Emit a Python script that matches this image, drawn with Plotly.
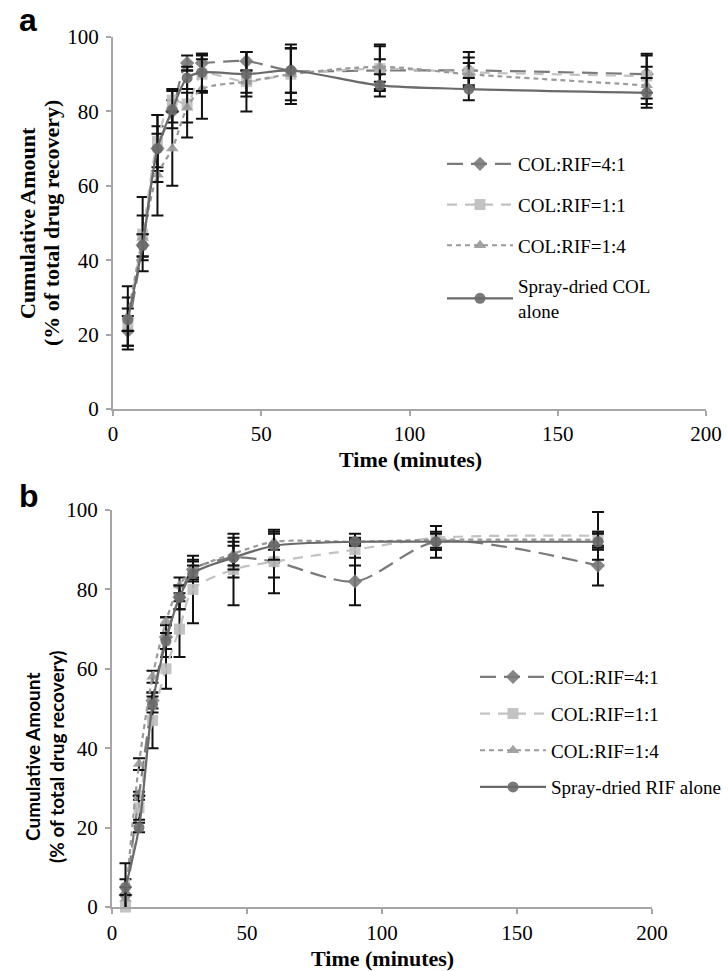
import plotly.graph_objects as go

W, H = 728, 971

# ---------------- data ----------------
time_min = [5, 10, 15, 20, 25, 30, 45, 60, 90, 120, 180]

names_a = ["COL:RIF=4:1", "COL:RIF=1:1", "COL:RIF=1:4", "Spray-dried COL<br>alone"]
a_41 = [21, 44, 70, 80, 93, 93, 93.5, 91, 91, 91, 90]
a_11 = [23, 47, 72, 83, 82, 90, 88, 90, 91.5, 90.5, 89.5]
a_14 = [25, 46, 63, 70, 81, 86, 88, 90, 92, 90, 87]
a_sd = [24, 44, 70, 80.5, 89, 90.5, 90, 91, 87, 86, 85]
a_err_41 = [4, 3, 6, 3, 2, 2.5, 2.5, 6, 3, 5, 5]
a_err_11 = [7, 10, 7, 3, 9, 5, 3, 8, 6, 4, 6]
a_err_14 = [8, 6, 11, 10, 4, 8, 8, 7, 6, 3, 5]
a_err_sd = [3, 3, 9, 5, 3, 5, 6, 6, 3, 3, 4]

names_b = ["COL:RIF=4:1", "COL:RIF=1:1", "COL:RIF=1:4", "Spray-dried RIF alone"]
b_41 = [3, 28, 52, 68, 78, 85, 88, 87, 82, 92, 86]
b_11 = [0, 25, 47, 60, 70, 80, 85, 87, 90, 93, 93.5]
b_14 = [2, 36, 58, 72, 81, 85, 89, 92, 92, 92.5, 92.5]
b_sd = [5, 20, 51, 67, 78, 84, 88, 91, 92, 92, 92]
b_err_41 = [4, 1, 2, 5, 3, 2.5, 5, 4, 6, 4, 5]
b_err_11 = [3, 3, 7, 5, 7, 8.5, 9, 8, 4, 3, 6]
b_err_14 = [3, 1.5, 1.5, 1, 2, 2, 3, 2, 1, 2, 2]
b_err_sd = [6, 1.2, 2, 2, 3, 2, 3, 3.5, 0.5, 2, 2]

y_ticks = [0, 20, 40, 60, 80, 100]
x_ticks = [0, 50, 100, 150, 200]

# ---------------- styles ----------------
styles = [
    dict(color="#7a7a7a", dash="16px,8px", symbol="diamond", mcolor="#7a7a7a"),
    dict(color="#c2c2c2", dash="10px,8px", symbol="square", mcolor="#bdbdbd"),
    dict(color="#9a9a9a", dash="5px,4px", symbol="triangle-up", mcolor="#999999"),
    dict(color="#6a6a6a", dash="solid", symbol="circle", mcolor="#6a6a6a"),
]

SERIF = "Liberation Serif, Times New Roman, serif"

fig = go.Figure()

def add_panel(ys, errs, names, xa, ya, legend, group_prefix):
    for i, (yv, ev, nm) in enumerate(zip(ys, errs, names)):
        st = styles[i]
        fig.add_trace(go.Scatter(
            x=time_min, y=yv, name=nm, mode="lines+markers",
            xaxis=xa, yaxis=ya, legend=legend,
            legendgroup=f"{group_prefix}{i}",
            line=dict(color=st["color"], width=2.2, dash=st["dash"], shape="spline", smoothing=0.8),
            marker=dict(symbol=st["symbol"], size=11, color=st["mcolor"], opacity=0.9,
                        line=dict(width=0)),
            error_y=dict(type="data", array=ev, visible=True, color="#111111", thickness=2, width=6),
            cliponaxis=False,
        ))

add_panel([a_41, a_11, a_14, a_sd], [a_err_41, a_err_11, a_err_14, a_err_sd], names_a, "x", "y", "legend", "a")
add_panel([b_41, b_11, b_14, b_sd], [b_err_41, b_err_11, b_err_14, b_err_sd], names_b, "x2", "y2", "legend2", "b")

def px_x(p):
    return p / W

def px_y(p):
    return 1 - p / H

axis_common = dict(
    showgrid=False, zeroline=False, showline=True, linecolor="#a6a6a6", linewidth=2,
    ticks="outside", tickcolor="#a6a6a6", ticklen=5, tickwidth=2, automargin=False,
    tickfont=dict(family=SERIF, size=21, color="black"),
)

fig.update_layout(
    width=W, height=H,
    margin=dict(l=0, r=0, t=0, b=0),
    paper_bgcolor="white", plot_bgcolor="white",
    showlegend=True,
    xaxis=dict(domain=[px_x(113), px_x(706)], range=[0, 200], tickvals=x_ticks, anchor="y",
               ticklabelstandoff=0, **axis_common),
    yaxis=dict(domain=[px_y(409), px_y(37)], range=[0, 100], tickvals=y_ticks, anchor="x",
               ticklabelstandoff=3, **axis_common),
    xaxis2=dict(domain=[px_x(112), px_x(652)], range=[0, 200], tickvals=x_ticks, anchor="y2",
                ticklabelstandoff=1, **axis_common),
    yaxis2=dict(domain=[px_y(907), px_y(510)], range=[0, 100], tickvals=y_ticks, anchor="x2",
                ticklabelstandoff=3, **axis_common),
    legend=dict(x=px_x(442), y=px_y(145), xanchor="left", yanchor="top",
                font=dict(family=SERIF, size=19, color="black"),
                itemwidth=66, tracegroupgap=13, bgcolor="rgba(0,0,0,0)", borderwidth=0),
    legend2=dict(x=px_x(475), y=px_y(658), xanchor="left", yanchor="top",
                 font=dict(family=SERIF, size=19, color="black"),
                 itemwidth=66, tracegroupgap=9, bgcolor="rgba(0,0,0,0)", borderwidth=0),
)

annotations = [
    # panel letters
    dict(text="<b>a</b>", x=px_x(17), y=px_y(20), xanchor="left", yanchor="middle",
         font=dict(family="Liberation Sans", size=32, color="black")),
    dict(text="<b>b</b>", x=px_x(17), y=px_y(496), xanchor="left", yanchor="middle",
         font=dict(family="Liberation Sans", size=32, color="black")),
    # panel a y title
    dict(text="<b>Cumulative Amount</b>", x=px_x(27), y=px_y(223), textangle=-90,
         xanchor="center", yanchor="middle", font=dict(family=SERIF, size=22, color="black")),
    dict(text="<b>(% of total drug recovery)</b>", x=px_x(51), y=px_y(223), textangle=-90,
         xanchor="center", yanchor="middle", font=dict(family=SERIF, size=22, color="black")),
    # panel a x title
    dict(text="<b>Time (minutes)</b>", x=px_x(410), y=px_y(459), xanchor="center", yanchor="middle",
         font=dict(family=SERIF, size=22, color="black")),
    # panel b y title
    dict(text="<b>Cumulative Amount</b>", x=px_x(32), y=px_y(757), textangle=-90,
         xanchor="center", yanchor="middle", font=dict(family="Lato", size=19, color="black")),
    dict(text="<b>(% of total drug recovery)</b>", x=px_x(56), y=px_y(757), textangle=-90,
         xanchor="center", yanchor="middle", font=dict(family="Lato", size=19, color="black")),
    # panel b x title
    dict(text="<b>Time (minutes)</b>", x=px_x(382), y=px_y(958), xanchor="center", yanchor="middle",
         font=dict(family=SERIF, size=22, color="black")),
]
for a in annotations:
    a.update(xref="paper", yref="paper", showarrow=False)
fig.update_layout(annotations=annotations)

fig.write_html("out.html", config={"displayModeBar": False},
               post_script="document.body.style.margin='0px';")
